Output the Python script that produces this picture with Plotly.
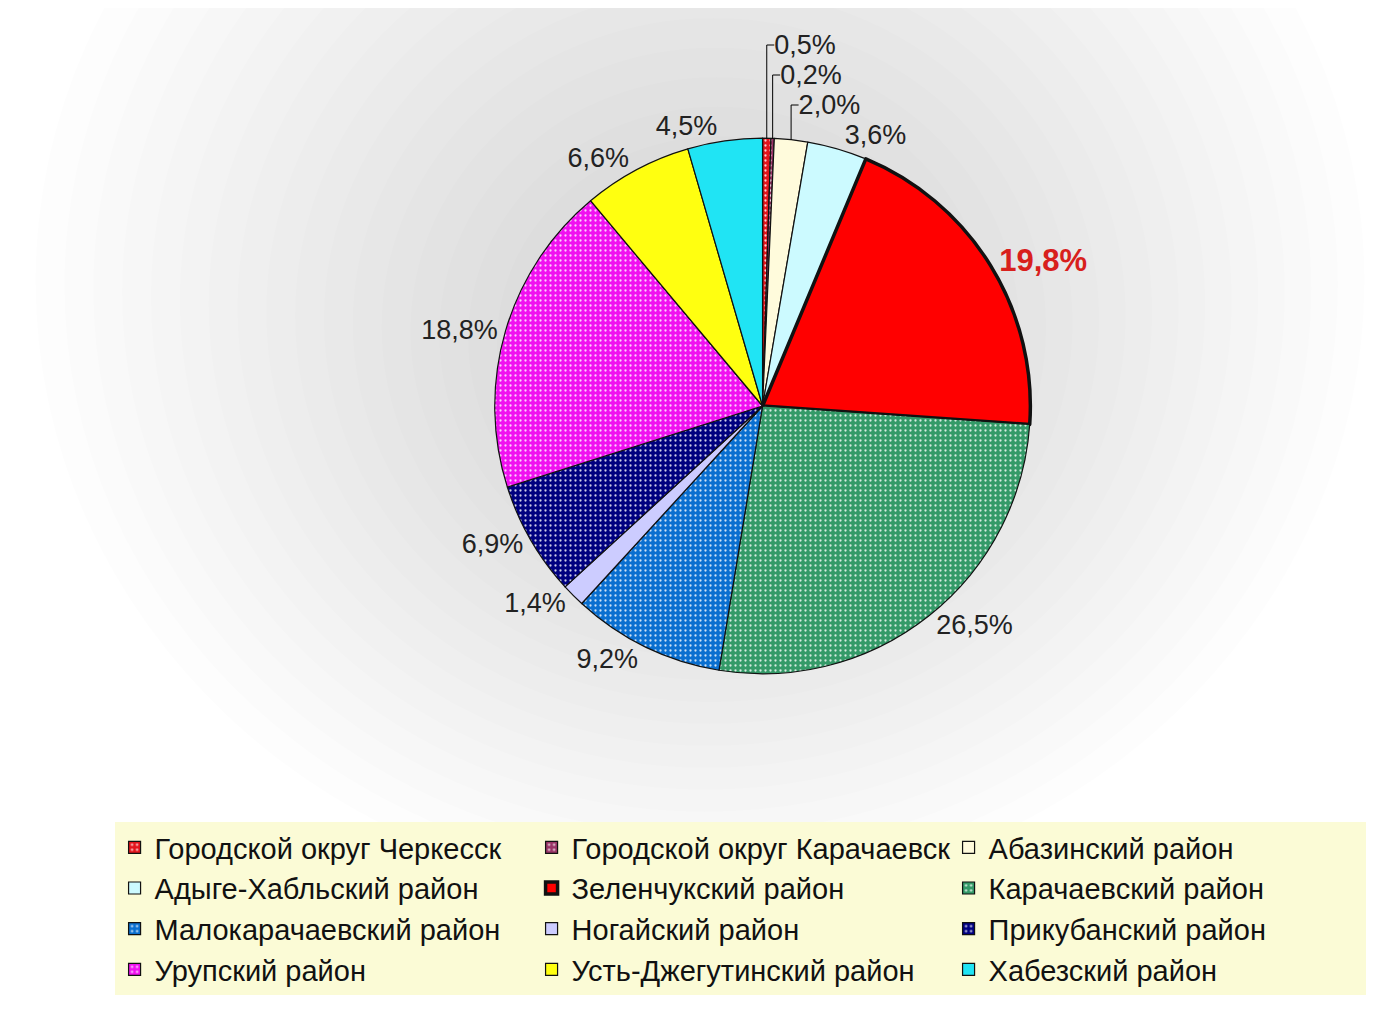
import plotly.graph_objects as go

districts = [
    "Городской округ Черкесск",
    "Городской округ Карачаевск",
    "Абазинский район",
    "Адыге-Хабльский район",
    "Зеленчукский район",
    "Карачаевский район",
    "Малокарачаевский район",
    "Ногайский район",
    "Прикубанский район",
    "Урупский район",
    "Усть-Джегутинский район",
    "Хабезский район",
]
shares = [0.5, 0.2, 2.0, 3.6, 19.8, 26.5, 9.2, 1.4, 6.9, 18.8, 6.6, 4.5]
share_labels = ["0,5%", "0,2%", "2,0%", "3,6%", "19,8%", "26,5%",
                "9,2%", "1,4%", "6,9%", "18,8%", "6,6%", "4,5%"]

colors = ["#e3141c", "#993366", "#fffbdc", "#ccfaff", "#ff0000", "#349a68",
          "#0a6fd0", "#ccccff", "#000080", "#f010f0", "#ffff10", "#20e4f4"]
patterns = [".", ".", "", "", "", ".", ".", "", ".", ".", "", ""]
line_widths = [1.2, 1.2, 1.2, 1.2, 3.5, 1.2, 1.2, 1.2, 1.2, 1.2, 1.2, 1.2]
text_colors = ["#222222"] * 12
text_colors[4] = "#d8201c"
text_sizes = [27] * 12
text_sizes[4] = 31
texts = [("<b>%s</b>" % t if i == 4 else t) for i, t in enumerate(share_labels)]

fig = go.Figure()

# soft grey halo in the background
n = 24
for i in range(n):
    f = 1 - i / n
    fig.add_shape(type="circle", xref="paper", yref="paper",
                  x0=0.52 - 0.50 * f, x1=0.52 + 0.46 * f,
                  y0=0.64 - 0.52 * f, y1=0.64 + 0.70 * f,
                  fillcolor="#8f8c99", opacity=0.015, line_width=0, layer="below")

fig.add_trace(go.Pie(
    labels=districts,
    values=shares,
    text=texts,
    textinfo="text",
    textposition="outside",
    sort=False,
    direction="clockwise",
    rotation=0,
    marker=dict(colors=colors,
                line=dict(color="#111111", width=line_widths),
                pattern=dict(shape=patterns, fgcolor="white", bgcolor=colors,
                             fgopacity=0.8, size=5, solidity=0.16)),
    outsidetextfont=dict(family="Liberation Sans, Arial", size=text_sizes, color=text_colors),
    domain=dict(x=[0.3517, 0.7387], y=[0.3425, 0.8717]),
    hoverinfo="label+percent",
))

fig.update_layout(
    width=1384, height=1013,
    margin=dict(l=0, r=0, t=0, b=0),
    paper_bgcolor="white",
    plot_bgcolor="white",
    font=dict(family="Liberation Sans, Arial", color="#111111"),
    showlegend=True,
    legend=dict(orientation="h", x=0.077, xanchor="left", y=0.1965, yanchor="top",
                bgcolor="#fbfbd6", borderwidth=0,
                font=dict(size=29, family="Liberation Sans, Arial", color="#111111"),
                entrywidth=372, entrywidthmode="pixels", traceorder="normal",
                itemclick=False),
)

fig.write_html("out.html")
